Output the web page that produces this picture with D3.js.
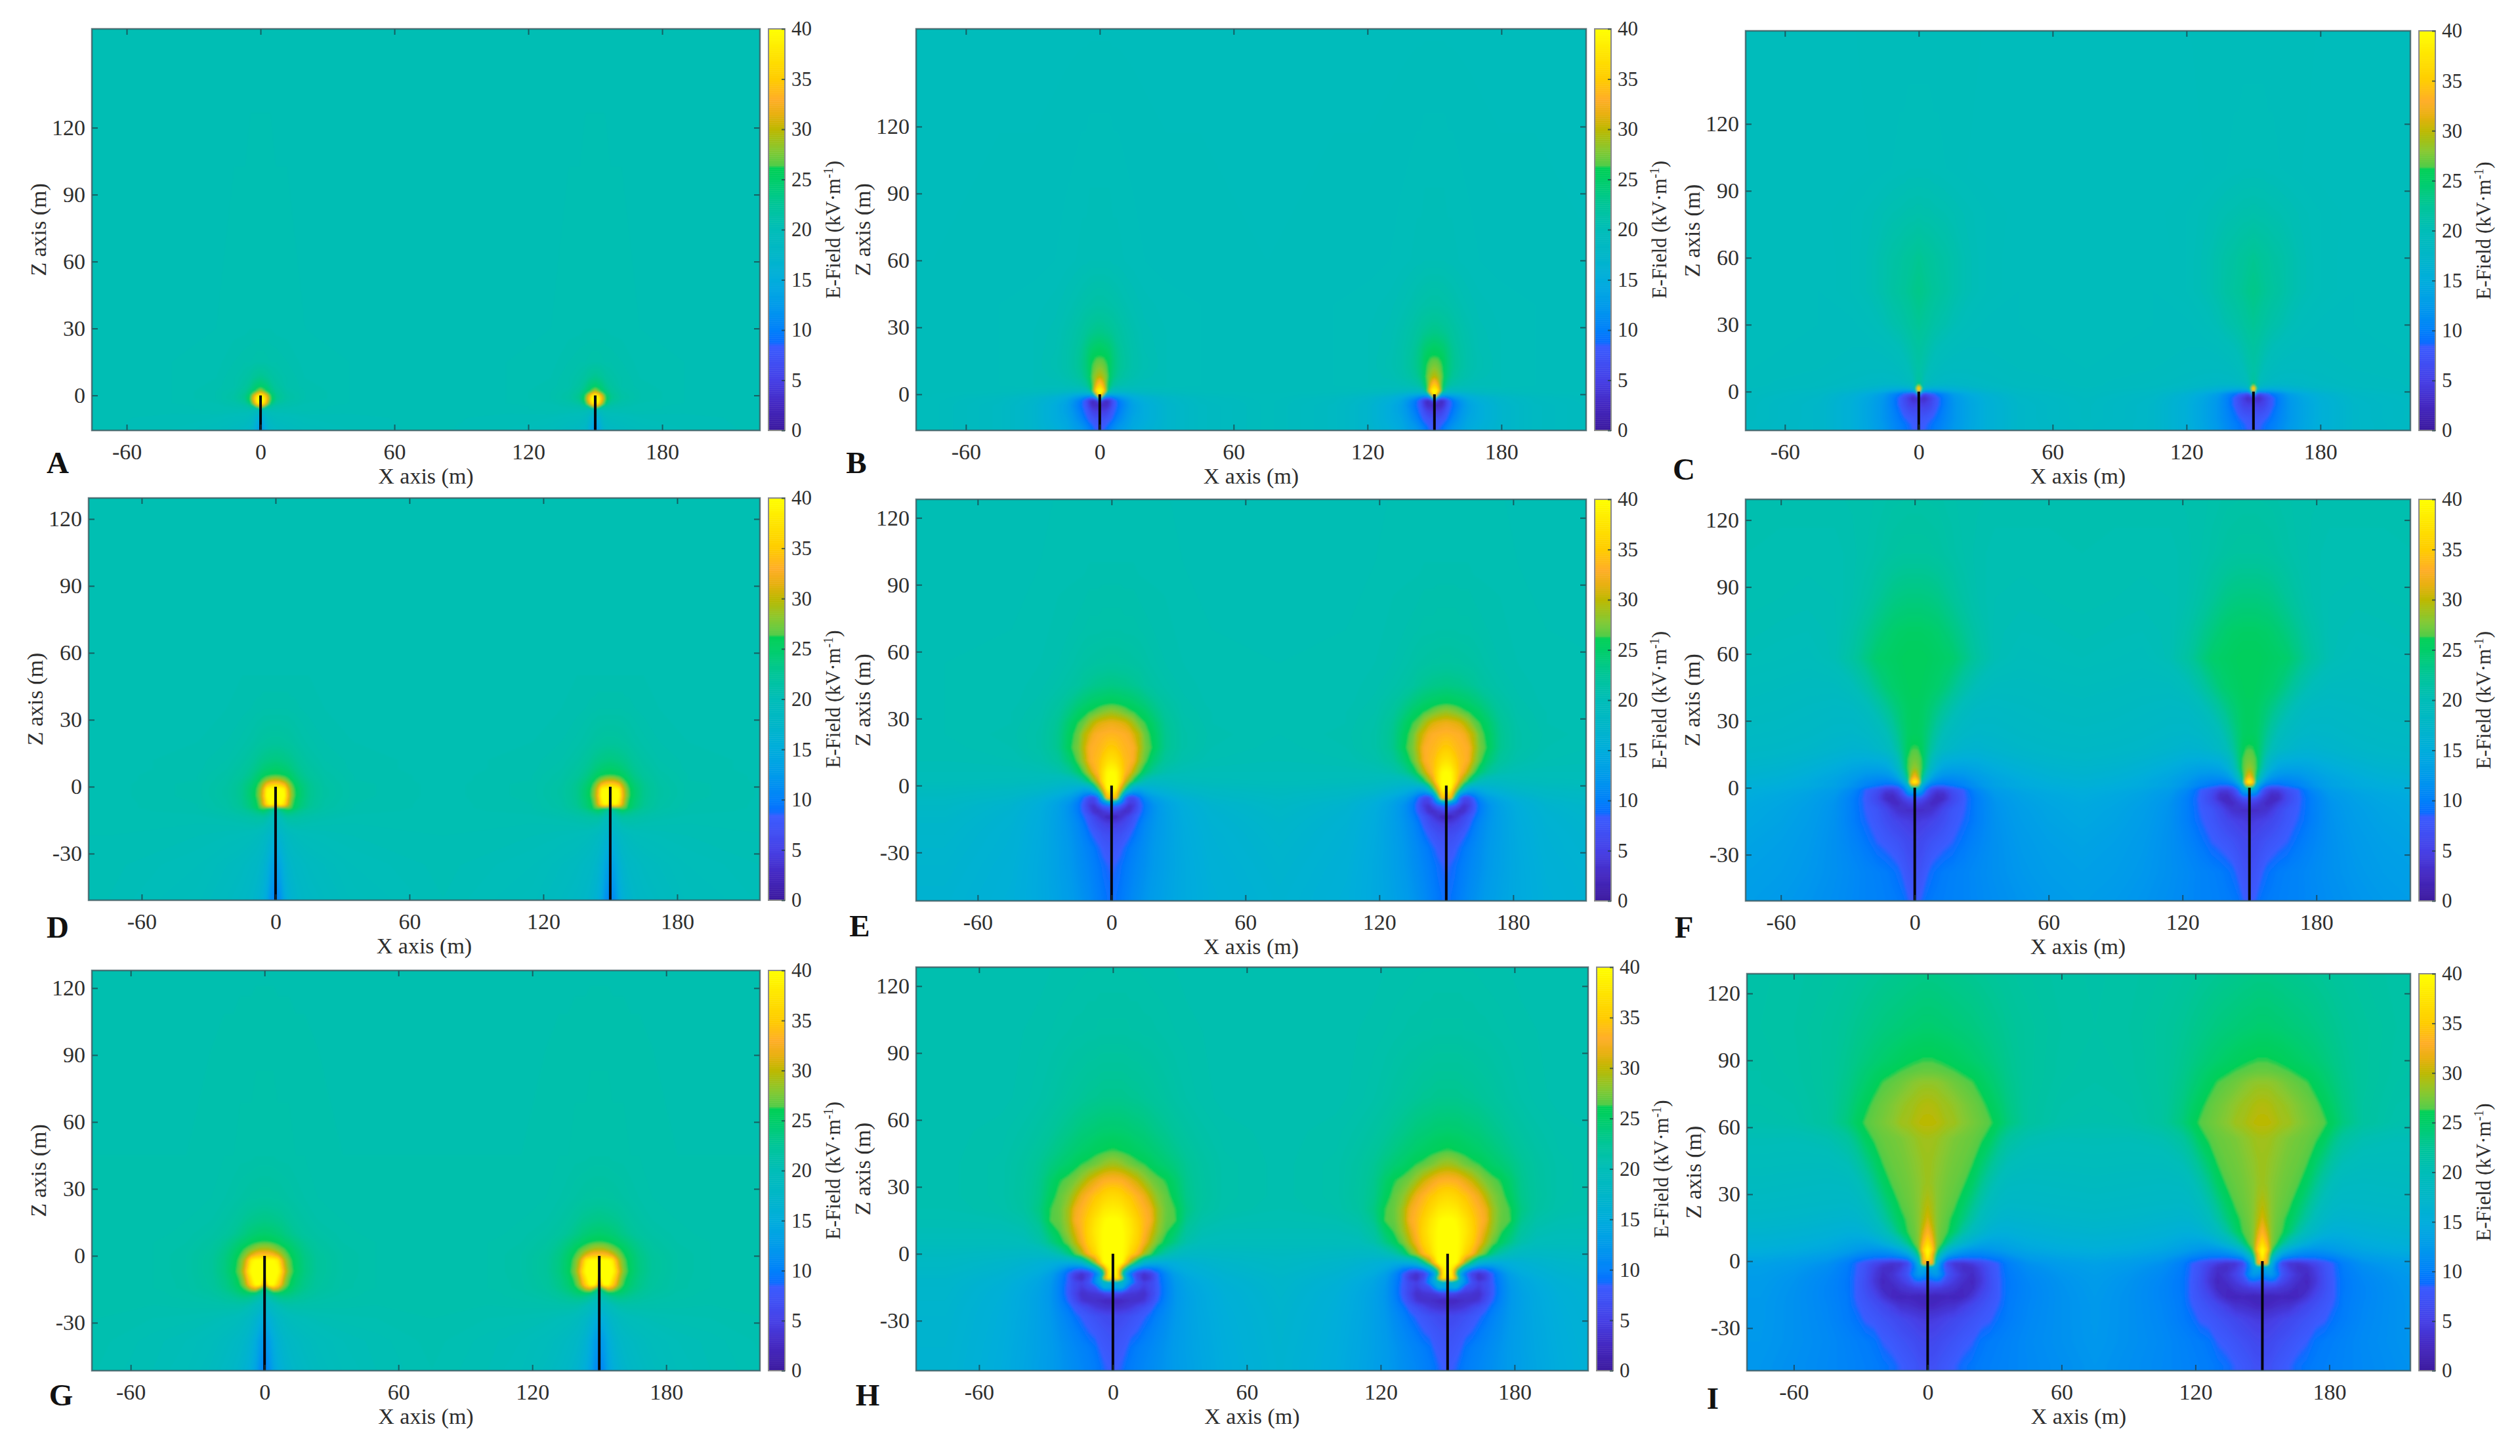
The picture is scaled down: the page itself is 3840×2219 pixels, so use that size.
<!DOCTYPE html>
<html>
<head>
<meta charset="utf-8">
<style>
html, body { margin: 0; background: #fff; }
text { font-family: "Liberation Serif", serif; fill: #2e2e2e; }
.domain { display: none; }
.tick line { stroke: #1d3d45; stroke-opacity: .75; stroke-width: 2px; }
</style>
</head>
<body>
<script src="https://d3js.org/d3.v7.min.js"></script>
<script>
// colour bar of the figure (kV/m)
var colorStops = [0, 2.5, 5, 8.4, 8.8, 10, 12.5, 15, 17.5, 20, 22.5, 25, 26.2, 26.4, 28, 30, 31.5, 33, 35, 37.5, 40];
var colorValues = ["#3c1a9e", "#4428c0", "#4640e6", "#3a5cff", "#0a6cff", "#0080fa", "#009bea", "#00addc", "#00b6c8", "#00bdb8", "#00c598", "#00ce68", "#00cf55", "#52cc48", "#88c830", "#bdb800", "#e8b010", "#ffae28", "#ffcc00", "#ffe400", "#ffff00"];

var panelNames = ["A", "B", "C", "D", "E", "F", "G", "H", "I"];
var towers = [0, 150];
var xTicks = [-60, 0, 60, 120, 180];
var zTicksShort = [0, 30, 60, 90, 120];
var zTicksTall = [-30, 0, 30, 60, 90, 120];
var cbarTicks = [0, 5, 10, 15, 20, 25, 30, 35, 40];

// left end of x axis and bottom end of z axis in metres, per panel
var xStart = [-75.6, -82.3, -77.6, -83.8, -87.6, -75.8, -77.4, -88.2, -81];
var zStart = [-15.7, -16.2, -17.4, -50.9, -51.7, -50.7, -51.5, -52.4, -49.1];

// Field values around one tower: rows = height z (m), cols = distance from the tower (m)
var colsA = [0, 1.5, 3, 4.5, 7, 12, 20, 40, 75];
var rowsA = [-25, -15, -10, -6.5, -5, -3.5, -1.6, 0, 1.7, 4, 8, 15, 30, 175];
var fieldA = [
  [11, 13, 16, 18, 18.5, 19, 19.5, 20, 20.3],
  [12, 14, 16.5, 18, 18.5, 19, 19.5, 20, 20.3],
  [15, 16, 18, 19, 19.5, 19.6, 20, 20.1, 20.3],
  [19, 19.5, 20, 20.5, 20.5, 20.5, 20.5, 20.3, 20.3],
  [30, 27, 23, 22, 21, 20.7, 20.5, 20.3, 20.3],
  [40, 38, 30, 24.5, 22, 21, 20.6, 20.4, 20.3],
  [40, 40, 33, 26.5, 23, 21.5, 20.8, 20.4, 20.3],
  [40, 37, 31, 25.5, 23, 21.5, 20.8, 20.4, 20.3],
  [30, 27.5, 25, 24, 22.5, 21.3, 20.8, 20.4, 20.3],
  [25, 24.5, 24, 23, 22, 21, 20.7, 20.4, 20.3],
  [23, 22.8, 22.5, 22, 21.5, 21, 20.6, 20.4, 20.3],
  [21.2, 21.2, 21.1, 21, 21, 20.8, 20.5, 20.4, 20.3],
  [20.6, 20.6, 20.6, 20.6, 20.5, 20.5, 20.4, 20.3, 20.3],
  [20.3, 20.3, 20.3, 20.3, 20.3, 20.3, 20.3, 20.3, 20.3]
];

var colsB = [0, 1.5, 3, 4.5, 6, 8, 11, 15, 20, 30, 45, 75];
var rowsB = [-25, -15, -11, -8, -5, -3, -1.5, 0, 1.5, 4, 8, 12, 16, 20, 28, 40, 60, 175];
var fieldB = [
  [8, 8.5, 9, 10, 11, 12, 13, 14, 15.5, 17, 18.5, 19.5],
  [8, 8.2, 9, 10, 11, 12, 13, 14.5, 15.5, 17, 18.5, 19.5],
  [7, 7, 7.5, 8, 9, 10.5, 12, 14, 15, 17, 18.5, 19.5],
  [5, 5, 5.5, 7, 8.2, 9.5, 11.5, 13.5, 15, 17, 18.5, 19.5],
  [3, 3, 3, 4.5, 7.5, 9, 11, 13.5, 15, 17, 18.5, 19.5],
  [8, 4, 2.5, 4, 7, 9.3, 11.5, 14, 15.5, 17.3, 18.7, 19.5],
  [30, 12, 9, 9, 10, 11.5, 13, 15, 16, 17.5, 18.8, 19.6],
  [40, 30, 17, 15, 15, 15, 15.5, 16.5, 17.5, 18.5, 19.2, 19.6],
  [40, 38, 27, 21, 19, 18.5, 18.5, 18.7, 19, 19.3, 19.6, 19.7],
  [36, 33, 26.8, 24, 22, 21, 20.5, 20.2, 20, 20, 19.8, 19.7],
  [30, 29, 27.5, 25, 23.7, 22.5, 21.5, 20.8, 20.3, 20, 19.8, 19.7],
  [28, 27.5, 26.6, 25.2, 24, 23, 22, 21, 20.5, 20, 19.8, 19.7],
  [26.5, 26.4, 26, 25.2, 24, 23, 22, 21, 20.5, 20, 19.8, 19.7],
  [25.5, 25.3, 25, 24.5, 23.7, 22.8, 21.8, 21, 20.4, 20, 19.8, 19.7],
  [23.3, 23.2, 23, 22.8, 22.5, 22, 21.4, 20.8, 20.3, 20, 19.8, 19.7],
  [21.5, 21.5, 21.4, 21.3, 21.2, 21, 20.7, 20.4, 20.1, 19.9, 19.8, 19.7],
  [20.2, 20.2, 20.2, 20.2, 20.1, 20.1, 20, 19.9, 19.8, 19.7, 19.7, 19.6],
  [19.5, 19.5, 19.5, 19.5, 19.5, 19.5, 19.5, 19.5, 19.5, 19.5, 19.5, 19.5]
];

var colsC = [0, 1, 2.5, 4.5, 6.5, 8.5, 12, 16, 22, 30, 45, 75];
var rowsC = [-25, -15, -12, -9, -6, -3, -1, 0, 1.5, 3, 5, 10, 20, 30, 45, 60, 80, 100, 175];
var fieldC = [
  [8.5, 8.5, 8.8, 9.5, 10, 10.5, 11.5, 12.5, 14, 15.5, 17.5, 18.5],
  [8, 8.1, 8.3, 8.8, 9.5, 10, 11, 12.3, 13.8, 15.5, 17.5, 18.5],
  [7.5, 7.5, 7.8, 8.2, 8.7, 9.5, 10.7, 12, 13.7, 15.5, 17.5, 18.7],
  [6.5, 6.5, 6.5, 7, 7.8, 9, 10.5, 12, 13.7, 15.5, 17.5, 18.7],
  [5, 5, 5, 5.5, 7, 8.3, 10.3, 12, 13.7, 15.5, 17.5, 18.7],
  [4, 3.5, 3, 4.5, 6.5, 8.2, 10.3, 12.2, 14, 15.7, 17.7, 18.8],
  [18, 9, 6, 7.5, 8.5, 9.5, 11, 13, 14.7, 16.2, 18, 19],
  [33, 18, 12, 12, 12, 12.5, 13.5, 14.7, 15.7, 17, 18.3, 19],
  [40, 28, 17, 16, 15.5, 15.5, 15.7, 16.2, 17, 17.8, 18.7, 19.2],
  [27, 22, 19, 18, 17.8, 17.5, 17.3, 17.4, 17.8, 18.3, 18.9, 19.3],
  [22, 21.5, 20, 19.3, 18.8, 18.5, 18.3, 18.2, 18.3, 18.6, 19, 19.3],
  [21.5, 21.3, 20.8, 20, 19.5, 19.2, 18.9, 18.8, 18.8, 18.9, 19.2, 19.4],
  [22, 21.8, 21.5, 21, 20.5, 20.1, 19.7, 19.4, 19.2, 19.2, 19.3, 19.5],
  [22.7, 22.5, 22.3, 21.9, 21.5, 21.2, 20.8, 20.2, 19.7, 19.3, 19.4, 19.5],
  [23.3, 23.2, 23, 22.7, 22.4, 22.1, 21.7, 21, 20.3, 19.8, 19.4, 19.5],
  [22.8, 22.7, 22.5, 22.3, 22.1, 21.8, 21.5, 21, 20.3, 19.8, 19.4, 19.5],
  [21, 21, 20.9, 20.9, 20.8, 20.7, 20.6, 20.4, 20.1, 19.8, 19.5, 19.5],
  [20, 20, 20, 20, 19.9, 19.9, 19.8, 19.7, 19.6, 19.5, 19.5, 19.5],
  [19.6, 19.6, 19.6, 19.6, 19.6, 19.6, 19.6, 19.6, 19.6, 19.6, 19.6, 19.6]
];

var colsD = [0, 2, 4, 5.5, 7, 8.5, 11, 15, 22, 35, 75];
var rowsD = [-60, -50, -35, -22, -14, -11, -9.5, -8, -4, -1, 1, 3, 5, 8, 12, 20, 35, 50, 140];
var fieldD = [
  [10, 11, 14, 15.5, 16.5, 17, 17.7, 18.2, 18.8, 19.5, 20.2],
  [10.5, 11.5, 14.5, 15.8, 16.5, 17, 17.7, 18.2, 18.8, 19.5, 20.2],
  [13, 14, 16, 17, 17.5, 18, 18.3, 18.8, 19.2, 19.8, 20.3],
  [16, 17, 18, 18.7, 19, 19.3, 19.6, 19.8, 20, 20.2, 20.4],
  [19, 20, 21, 21.5, 21.5, 21.5, 21.3, 21, 20.7, 20.5, 20.5],
  [21, 22.5, 24, 24.5, 24, 23.5, 22.8, 22, 21.2, 20.7, 20.5],
  [24, 25, 26.5, 27, 26.5, 25.2, 23.8, 22.5, 21.4, 20.8, 20.5],
  [36, 40, 37, 31, 27, 25.5, 24.2, 22.8, 21.5, 20.8, 20.5],
  [40, 40, 40, 33, 28.5, 26.4, 24.7, 23, 21.7, 20.9, 20.5],
  [40, 40, 39, 32, 28, 26.2, 24.6, 23, 21.7, 20.9, 20.5],
  [36, 35.5, 33, 29.5, 27, 25.5, 24.2, 22.9, 21.6, 20.9, 20.5],
  [30, 29.5, 28, 26.8, 25.7, 24.8, 23.7, 22.6, 21.5, 20.8, 20.5],
  [26.4, 26.2, 25.8, 25.4, 24.8, 24.2, 23.2, 22.3, 21.4, 20.8, 20.5],
  [25, 24.8, 24.5, 24.2, 23.8, 23.3, 22.7, 22, 21.2, 20.7, 20.5],
  [23.7, 23.6, 23.4, 23.2, 23, 22.7, 22.2, 21.6, 21, 20.7, 20.5],
  [22.2, 22.2, 22.1, 22, 21.9, 21.7, 21.4, 21.1, 20.8, 20.6, 20.5],
  [21, 21, 21, 21, 20.9, 20.9, 20.8, 20.7, 20.6, 20.5, 20.5],
  [20.6, 20.6, 20.6, 20.6, 20.6, 20.6, 20.6, 20.6, 20.5, 20.5, 20.5],
  [20.4, 20.4, 20.4, 20.4, 20.4, 20.4, 20.4, 20.4, 20.4, 20.4, 20.4]
];

var colsE = [0, 2, 4, 6, 8, 10, 12.5, 15, 18.5, 24, 32, 45, 75];
var rowsE = [-60, -50, -36, -28, -22, -17, -14, -11.5, -9, -7.5, -5.5, -3.5, -1, 2, 6, 11, 17, 23, 28, 33, 37, 45, 55, 70, 100, 140];
var fieldE = [
  [9, 9.2, 9.6, 10, 10.5, 11, 11.5, 12, 12.7, 13.5, 14.5, 15.5, 16.5],
  [9, 9.2, 9.6, 10, 10.5, 11, 11.5, 12, 12.7, 13.5, 14.5, 15.5, 16.5],
  [8.4, 8.6, 9, 9.6, 10, 10.5, 11, 11.5, 12.3, 13.3, 14.5, 15.7, 16.8],
  [7.5, 7.7, 8.2, 8.8, 9.6, 10.1, 10.7, 11.3, 12.2, 13.3, 14.6, 15.9, 17],
  [6.5, 6.7, 7, 7.7, 8.3, 9.2, 10.2, 11, 12, 13.2, 14.7, 16, 17.2],
  [4.5, 4.7, 5.3, 6, 7, 8, 9.6, 10.7, 11.8, 13.2, 14.8, 16.2, 17.4],
  [2.2, 2.5, 3.3, 4.5, 6, 7.4, 8.8, 10.2, 11.6, 13.2, 14.9, 16.3, 17.6],
  [6, 5, 4, 3, 3.3, 5.5, 8, 9.8, 11.5, 13.3, 15, 16.5, 17.8],
  [9, 9, 8, 5.5, 3.5, 4.5, 7.7, 9.7, 11.5, 13.4, 15.2, 16.7, 18],
  [18, 14, 11, 8, 5, 5, 8, 10, 12, 13.7, 15.4, 17, 18.2],
  [34, 34, 18, 9, 6, 6.5, 8.8, 11, 12.8, 14.5, 16, 17.5, 18.5],
  [38, 36, 27, 15, 12, 11, 11.5, 13, 14.5, 15.7, 17, 18, 18.8],
  [40, 40, 32, 26.5, 20, 16, 15, 15.5, 16.2, 17, 18, 18.7, 19.2],
  [40, 40, 37, 31, 28, 25, 22, 20, 18.8, 18.8, 19.2, 19.6, 19.8],
  [40, 39.5, 37, 34, 32, 29.5, 26.6, 24.5, 22.5, 20.8, 20.2, 20, 20],
  [37.5, 37, 35.5, 34, 33.5, 32.5, 29, 26.8, 24.5, 22.2, 20.9, 20.4, 20.2],
  [35, 34.7, 34, 33.5, 33.2, 32.8, 30, 27.5, 26, 23, 21.3, 20.6, 20.3],
  [33.5, 33.4, 33.2, 33, 32.5, 31, 29.5, 27, 25.7, 23, 21.3, 20.7, 20.4],
  [32, 31.8, 31.5, 31, 30, 28.8, 27, 26.3, 25, 22.7, 21.2, 20.6, 20.4],
  [28.5, 28.2, 27.8, 27.2, 26.6, 26.2, 25.6, 25, 23.8, 22.2, 21, 20.6, 20.4],
  [25.9, 25.8, 25.6, 25.4, 25.2, 24.9, 24.4, 23.9, 23, 21.8, 20.9, 20.5, 20.4],
  [23.5, 23.4, 23.3, 23.2, 23, 22.8, 22.5, 22, 21.6, 21.1, 20.7, 20.5, 20.4],
  [22, 22, 21.9, 21.9, 21.8, 21.7, 21.6, 21.4, 21.1, 20.8, 20.6, 20.5, 20.4],
  [21.2, 21.2, 21.2, 21.1, 21.1, 21.1, 21, 20.9, 20.8, 20.7, 20.5, 20.4, 20.4],
  [20.6, 20.6, 20.6, 20.6, 20.6, 20.6, 20.5, 20.5, 20.5, 20.5, 20.4, 20.4, 20.4],
  [20.4, 20.4, 20.4, 20.4, 20.4, 20.4, 20.4, 20.4, 20.4, 20.4, 20.4, 20.4, 20.4]
];

var colsF = [0, 1.5, 3, 5, 7.5, 10, 13, 17, 22, 28, 36, 48, 60, 75];
var rowsF = [-60, -50, -38, -24, -15, -10, -7, -5, -3, -1, 1, 2.5, 5, 9, 13, 17.5, 25, 35, 45, 58, 70, 85, 105, 140];
var fieldF = [
  [8, 8.3, 9.3, 9.6, 9.9, 10, 10, 10.1, 10.3, 10.7, 11.2, 11.8, 12.3, 12.8],
  [8, 8.2, 8.6, 9.3, 9.6, 9.8, 10, 10.2, 10.4, 10.8, 11.3, 11.9, 12.4, 12.9],
  [7, 7.2, 7.5, 8.2, 9, 9.4, 9.8, 10.1, 10.4, 10.9, 11.5, 12.2, 12.8, 13.2],
  [6, 6, 6.2, 6.7, 7.2, 7.6, 8, 8.5, 9.5, 10.4, 11.5, 12.5, 13.2, 13.7],
  [4.5, 4.5, 4.8, 5, 5.5, 6, 6.8, 7.8, 8.7, 10, 11.6, 12.8, 13.6, 14.2],
  [3, 3, 3, 3.2, 3.5, 4.5, 6, 7.5, 8.4, 10, 11.7, 13, 13.8, 14.4],
  [5, 4.8, 4.5, 3.7, 2.8, 3, 4.5, 6.5, 8.3, 10, 11.8, 13.2, 14, 14.6],
  [7, 7, 6.5, 5, 3.5, 2.5, 3, 6, 8.2, 10, 12, 13.4, 14.2, 14.8],
  [10, 10.5, 10, 7.5, 4.5, 3, 3.2, 6.2, 8.3, 10.3, 12.3, 13.6, 14.4, 15],
  [18, 14, 13, 9, 6, 4.5, 4.8, 7, 8.4, 10.8, 12.7, 14, 14.8, 15.3],
  [30, 28, 16, 12, 9.5, 8.8, 8.8, 9.5, 10.4, 11.8, 13.5, 14.7, 15.3, 15.7],
  [40, 36, 21, 15, 11.5, 10.5, 10, 10.2, 10.8, 12, 13.5, 14.7, 15.5, 16],
  [33, 30, 24.5, 19, 14.5, 12.5, 11.7, 11.5, 11.8, 12.8, 14, 15.2, 16, 16.5],
  [28.5, 27.7, 26.4, 22.5, 18, 15.5, 14, 13.5, 13.5, 14, 15, 16, 16.7, 17],
  [27.3, 27, 26.3, 23.5, 20, 17.5, 16, 15.5, 15.2, 15.3, 16, 16.8, 17.3, 17.6],
  [26.4, 26.3, 25.7, 24, 21.8, 20, 18.5, 17.5, 16.8, 16.6, 17, 17.5, 17.8, 18],
  [25.5, 25.4, 25.2, 24.3, 23, 21.5, 20, 18.8, 17.9, 17.5, 17.6, 18, 18.3, 18.5],
  [25.5, 25.5, 25.3, 24.8, 24.1, 23.3, 22.2, 20.7, 19.2, 18.3, 18.2, 18.5, 18.8, 19],
  [25.7, 25.7, 25.6, 25.4, 25.1, 24.8, 24.2, 23, 21.3, 19.8, 19, 19, 19.2, 19.4],
  [25.8, 25.8, 25.8, 25.7, 25.5, 25.3, 25.1, 24.8, 23.5, 21.8, 20.3, 19.6, 19.8, 20],
  [25.2, 25.2, 25.2, 25.1, 25, 24.8, 24.4, 23.7, 22.7, 21.3, 20.3, 20, 20.1, 20.3],
  [23.8, 23.8, 23.8, 23.7, 23.6, 23.4, 23, 22.4, 21.5, 20.8, 20.4, 20.3, 20.4, 20.5],
  [22, 22, 22, 22, 21.9, 21.8, 21.6, 21.3, 21, 20.7, 20.5, 20.5, 20.5, 20.6],
  [21.2, 21.2, 21.2, 21.1, 21.1, 21.1, 21, 21, 20.9, 20.9, 20.8, 20.8, 20.8, 20.8]
];

var colsG = [0, 2, 4, 6, 7.5, 9, 11, 14, 18, 24, 35, 50, 75];
var rowsG = [-60, -51, -38, -28, -22, -18, -16, -14.5, -13, -7, -2, 0.5, 3, 6, 10, 16, 26, 45, 140];
var fieldG = [
  [10, 11, 13.5, 15, 15.7, 16.3, 17, 17.7, 18.3, 19, 19.7, 20.1, 20.5],
  [10.3, 11.3, 13.8, 15.2, 15.9, 16.5, 17.1, 17.8, 18.4, 19.1, 19.8, 20.2, 20.6],
  [12, 13, 15, 16.3, 17, 17.5, 18, 18.5, 19, 19.5, 20, 20.3, 20.7],
  [15, 15.7, 17, 18, 18.5, 19, 19.4, 19.8, 20, 20.3, 20.5, 20.6, 20.8],
  [18, 18.5, 19.5, 20.3, 20.7, 21, 21.2, 21.2, 21.1, 21, 20.9, 20.8, 20.8],
  [20.5, 21.5, 22.5, 23.2, 23.5, 23.6, 23.4, 22.8, 22.2, 21.5, 21.1, 20.9, 20.8],
  [22, 24, 26.3, 26.4, 25.8, 25.3, 24.6, 23.6, 22.7, 21.8, 21.2, 20.9, 20.8],
  [24, 28, 33, 31, 28, 26.6, 25.2, 24, 23, 22, 21.3, 21, 20.8],
  [30, 40, 40, 36, 32, 28, 26, 24.4, 23.2, 22.1, 21.3, 21, 20.8],
  [40, 40, 40, 40, 37, 31.5, 27.5, 25.3, 23.7, 22.3, 21.4, 21, 20.8],
  [40, 40, 40, 38.5, 33.5, 29.5, 26.9, 25.1, 23.6, 22.3, 21.4, 21, 20.8],
  [34, 34, 33, 31, 29, 27.5, 26.2, 24.8, 23.4, 22.2, 21.4, 21, 20.8],
  [29.5, 29.3, 28.5, 27.5, 26.9, 26.3, 25.4, 24.3, 23.1, 22, 21.3, 21, 20.8],
  [26.4, 26.3, 26, 25.6, 25.2, 24.8, 24.4, 23.6, 22.7, 21.8, 21.2, 21, 20.8],
  [24.8, 24.7, 24.5, 24.2, 24, 23.6, 23.2, 22.6, 22, 21.5, 21.1, 20.9, 20.8],
  [23.4, 23.3, 23.2, 23, 22.9, 22.7, 22.4, 22, 21.6, 21.2, 21, 20.9, 20.8],
  [22, 22, 21.9, 21.9, 21.8, 21.7, 21.6, 21.4, 21.2, 21, 20.9, 20.8, 20.8],
  [21.2, 21.2, 21.2, 21.1, 21.1, 21.1, 21.1, 21, 21, 20.9, 20.8, 20.8, 20.8],
  [20.7, 20.7, 20.7, 20.7, 20.7, 20.7, 20.7, 20.7, 20.7, 20.7, 20.7, 20.7, 20.7]
];

var colsH = [0, 2, 4, 6, 8, 11, 14, 17, 20, 24, 28, 33, 40, 50, 75];
var rowsH = [-60, -50, -42, -35, -28, -24, -21, -18, -15, -13, -11, -9, -7, -4, 0, 5, 10, 15, 20, 26, 33, 40, 46, 55, 70, 100, 140];
var fieldH = [
  [8.3, 8.6, 9.2, 9.6, 9.9, 10.2, 10.6, 11, 11.4, 12, 12.6, 13.2, 14, 15, 16.5],
  [8, 8.3, 8.6, 9.4, 9.8, 10.2, 10.6, 11, 11.4, 12, 12.6, 13.2, 14, 15, 16.5],
  [7.5, 7.7, 8, 8.4, 9.3, 9.9, 10.3, 10.7, 11.2, 11.9, 12.6, 13.3, 14.1, 15.1, 16.6],
  [7, 7.1, 7.4, 7.7, 8.1, 8.6, 9.5, 10.2, 10.8, 11.6, 12.5, 13.3, 14.2, 15.2, 16.7],
  [6, 6, 6.3, 6.7, 7.1, 7.7, 8.3, 9.2, 10.2, 11.2, 12.3, 13.3, 14.3, 15.3, 16.8],
  [3.5, 3.5, 3.7, 4, 4.5, 5.8, 7, 8, 9.5, 10.8, 12.2, 13.3, 14.4, 15.4, 16.9],
  [2.5, 2.5, 2.7, 3, 3.2, 3.3, 4, 6.5, 8.5, 10.5, 12.1, 13.3, 14.4, 15.5, 17],
  [5.5, 5.5, 5, 4.2, 4, 3.7, 3.3, 5.5, 8, 10.3, 12.1, 13.4, 14.5, 15.6, 17.1],
  [14, 15, 15, 11, 7, 6, 4.5, 6, 8, 10.3, 12.2, 13.6, 14.7, 15.8, 17.2],
  [15, 16, 16.5, 14, 11, 7, 5, 6, 8.2, 10.4, 12.4, 13.8, 14.9, 16, 17.3],
  [35, 38, 30, 15, 11, 6, 3, 4.5, 8.3, 10.6, 12.7, 14.1, 15.2, 16.2, 17.4],
  [40, 38, 24, 13, 9.5, 5.5, 3.5, 5, 8.4, 11, 13.2, 14.7, 15.6, 16.5, 17.6],
  [40, 38, 28, 20, 14, 10, 8.5, 9, 10, 12.5, 14.3, 15.3, 16, 16.9, 17.9],
  [40, 40, 40, 34, 28, 22, 17, 15.5, 15, 15, 15.5, 16, 16.7, 17.3, 18.2],
  [40, 40, 40, 38.5, 36, 33.3, 29, 26.5, 23.5, 21, 19.5, 18.3, 18, 18.3, 18.8],
  [40, 40, 40, 39, 37.5, 35.5, 32.5, 29.5, 27.2, 25.2, 23.3, 21, 19.8, 19.6, 19.6],
  [40, 40, 40, 39, 38, 36, 33.5, 31, 28.5, 26.4, 24.8, 22, 20.5, 20.1, 20.1],
  [40, 40, 39.5, 38.5, 37.5, 35.5, 33.7, 32.5, 29, 26.9, 26.4, 23, 21.2, 20.6, 20.4],
  [38.5, 38.3, 38, 37, 36, 34.5, 33.3, 32, 29, 27, 26.3, 23.6, 21.8, 21, 20.6],
  [36.5, 36.3, 35.8, 35, 34.5, 33.3, 32, 29.8, 28, 26.8, 25.5, 23.2, 22, 21.1, 20.7],
  [33.2, 33.1, 32.9, 32.3, 31.5, 30.3, 28.7, 27.5, 26.8, 26.1, 24.8, 23, 21.9, 21.1, 20.7],
  [29, 28.8, 28.4, 27.8, 27.3, 26.7, 26.3, 25.6, 25, 24.4, 23.7, 22.7, 21.8, 21.1, 20.7],
  [26.4, 26.3, 26.1, 25.9, 25.7, 25.3, 25, 24.6, 24.2, 23.6, 23, 22.3, 21.6, 21, 20.7],
  [24.8, 24.7, 24.7, 24.6, 24.4, 24.2, 24, 23.6, 23.2, 22.8, 22.3, 21.8, 21.3, 20.9, 20.7],
  [23, 23, 23, 22.9, 22.8, 22.7, 22.5, 22.3, 22.1, 21.8, 21.5, 21.2, 20.9, 20.7, 20.6],
  [21.5, 21.5, 21.5, 21.5, 21.4, 21.4, 21.3, 21.3, 21.2, 21.1, 21, 20.9, 20.8, 20.7, 20.6],
  [20.8, 20.8, 20.8, 20.8, 20.8, 20.8, 20.8, 20.7, 20.7, 20.7, 20.7, 20.6, 20.6, 20.6, 20.6]
];

var colsI = [0, 2, 4, 6, 9, 12, 16, 20, 24, 28, 32, 36, 45, 60, 75];
var rowsI = [-60, -47, -36, -26, -20, -16, -12, -9, -6, -3, -1, 1, 3, 5, 8, 13, 19, 26, 35, 45, 55, 62, 70, 80, 85, 90, 105, 140];
var fieldI = [
  [7, 7, 7.2, 7.6, 8, 8.3, 9, 9.5, 9.8, 10, 10.2, 10.4, 10.8, 11.4, 12],
  [7, 7, 7.2, 7.6, 8, 8.4, 9, 9.5, 9.8, 10, 10.2, 10.4, 10.8, 11.4, 12],
  [6, 6, 6.2, 6.6, 7, 7.4, 8, 8.4, 9.4, 9.8, 10, 10.3, 10.9, 11.6, 12.2],
  [4.5, 4.5, 4.7, 5, 5.5, 6, 6.7, 7.3, 7.9, 8.3, 9.3, 9.8, 10.7, 11.6, 12.3],
  [2.5, 2.5, 2.7, 3, 3.3, 3.5, 4.8, 6, 7, 7.8, 8.6, 9.7, 10.6, 11.6, 12.3],
  [2, 2, 2, 2.2, 2.4, 2.2, 2.5, 4, 6, 7.3, 8.3, 9.6, 10.5, 11.6, 12.4],
  [5, 5, 4.8, 4.6, 4, 3.5, 2.6, 2.6, 4.8, 6.8, 8.3, 9.5, 10.5, 11.7, 12.5],
  [8, 8.5, 9, 8.5, 6, 4.5, 3.2, 2.4, 4.2, 6.8, 8.3, 9.5, 10.6, 11.8, 12.6],
  [11, 12, 12.5, 11, 7.5, 5.5, 3.6, 2.8, 4.5, 7, 8.4, 9.6, 10.8, 12, 12.8],
  [13, 15, 14, 10, 7, 4.5, 3, 3.2, 5, 7.2, 8.5, 9.8, 11.2, 12.4, 13.1],
  [33, 33, 16, 11, 6, 4, 3.5, 4.5, 6, 7.5, 8.6, 10, 11.6, 12.8, 13.4],
  [38, 33, 19, 14, 10, 9, 8.4, 8.6, 8.8, 9.3, 9.8, 10.8, 12.4, 13.4, 14],
  [40, 33, 24, 18, 13.5, 12, 11, 10.5, 10.5, 10.8, 11.3, 12, 13.2, 14.2, 14.7],
  [40, 36, 26.8, 22.5, 17, 14.5, 12.8, 12, 11.8, 12, 12.4, 13, 14, 14.9, 15.3],
  [37, 33.5, 28, 26.6, 23, 20, 17, 15.2, 14, 13.6, 13.7, 14, 14.9, 15.6, 15.9],
  [33.5, 31, 28, 27, 26.3, 24.5, 21.5, 19, 17.2, 16, 15.5, 15.5, 16, 16.5, 16.8],
  [31, 29.5, 28, 27.3, 26.6, 25.8, 23.8, 21.5, 19.3, 17.8, 17, 16.8, 17, 17.4, 17.6],
  [29.7, 29, 28, 27.5, 27, 26.6, 25.2, 23.2, 21, 19.3, 18.2, 17.8, 17.9, 18.1, 18.3],
  [28.7, 28.5, 28, 27.7, 27.3, 27, 26.5, 25.2, 23, 21, 19.6, 18.8, 18.6, 18.8, 19],
  [28.7, 28.6, 28.3, 28, 27.6, 27.3, 27, 26.5, 25, 23.2, 21.5, 20.3, 19.5, 19.5, 19.6],
  [29, 28.9, 28.7, 28.4, 28, 27.6, 27.3, 27, 26.5, 25.5, 23.5, 22, 20.6, 20.1, 20.2],
  [30, 30, 29.8, 29.5, 29, 28.8, 28, 27.5, 27, 26.5, 25.4, 23.9, 22, 21, 20.8],
  [29.6, 29.5, 29.3, 29, 28.7, 28.3, 27.7, 27.2, 26.7, 25.8, 24.8, 23.6, 22, 21.2, 21],
  [28.3, 28.3, 28.2, 28, 27.6, 27.2, 26.8, 26.4, 25.6, 24.8, 24, 23.2, 22.1, 21.4, 21.2],
  [27, 27, 26.9, 26.8, 26.6, 26.4, 26, 25.6, 25, 24.4, 23.7, 23, 22.1, 21.5, 21.2],
  [26.3, 26.3, 26.2, 26.1, 25.9, 25.6, 25.2, 24.8, 24.4, 23.9, 23.4, 22.9, 22.1, 21.5, 21.3],
  [24.7, 24.7, 24.6, 24.5, 24.4, 24.2, 24, 23.8, 23.5, 23.2, 22.9, 22.6, 22.1, 21.6, 21.4],
  [22.8, 22.8, 22.8, 22.7, 22.6, 22.5, 22.4, 22.3, 22.2, 22.1, 22, 21.9, 21.7, 21.5, 21.3]
];

var allCols = [colsA, colsB, colsC, colsD, colsE, colsF, colsG, colsH, colsI];
var allRows = [rowsA, rowsB, rowsC, rowsD, rowsE, rowsF, rowsG, rowsH, rowsI];
var allFields = [fieldA, fieldB, fieldC, fieldD, fieldE, fieldF, fieldG, fieldH, fieldI];

// layout: panel rectangles in page pixels [left, top, right, bottom]
var frames = [
  [140, 44, 1158, 656], [1396, 44, 2417, 656], [2660, 47, 3673, 656],
  [135, 759, 1158, 1372], [1396, 761, 2417, 1373], [2660, 761, 3673, 1373],
  [140, 1479, 1158, 2089], [1396, 1474, 2420, 2089], [2662, 1484, 3673, 2089]
];
// centre of the panel letter in page pixels
var letterPos = [[88, 705], [1305, 705], [2566, 715], [88, 1413], [1310, 1411], [2566, 1413], [93, 2126], [1322, 2126], [2610, 2131]];
var pxPerMetre = 3.4;
var axisFont = 34;
var barFont = 31;

var color = d3.scaleLinear().domain(colorStops).range(colorValues).clamp(true);
var levels = d3.range(0, 40, 0.2);

var svg = d3.select("body").append("svg")
    .attr("width", 3840)
    .attr("height", 2219);
var defs = svg.append("defs");
defs.append("filter").attr("id", "soft")
    .attr("x", "-2%").attr("y", "-2%").attr("width", "104%").attr("height", "104%")
    .append("feGaussianBlur").attr("stdDeviation", 1.8);

panelNames.forEach(function(name, i) {
    var f = frames[i];
    var left = f[0], top = f[1], right = f[2], bottom = f[3];
    var w = right - left, h = bottom - top;

    var x = d3.scaleLinear()
        .domain([xStart[i], xStart[i] + w / pxPerMetre])
        .range([0, w]);
    var z = d3.scaleLinear()
        .domain([zStart[i], zStart[i] + h / pxPerMetre])
        .range([h, 0]);

    var g = svg.append("g").attr("transform", "translate(" + left + "," + top + ")");
    defs.append("clipPath").attr("id", "clip" + name)
        .append("rect").attr("width", w).attr("height", h);

    // mirror the one-tower columns around both towers to get the whole row of the field
    var cols = allCols[i];
    var n = cols.length;
    var xGrid = [-130], colIndex = [n - 1];
    d3.range(n - 1, -1, -1).forEach(function(c) { xGrid.push(-cols[c]); colIndex.push(c); });
    d3.range(1, n).forEach(function(c) { xGrid.push(cols[c]); colIndex.push(c); });
    d3.range(n - 2, -1, -1).forEach(function(c) { xGrid.push(150 - cols[c]); colIndex.push(c); });
    d3.range(1, n).forEach(function(c) { xGrid.push(150 + cols[c]); colIndex.push(c); });
    xGrid.push(280); colIndex.push(n - 1);

    var rows = allRows[i];
    var values = [];
    allFields[i].forEach(function(row) {
        colIndex.forEach(function(c) { values.push(row[c]); });
    });

    // grid index -> metres
    var xOfCell = d3.scaleLinear().domain(d3.range(xGrid.length)).range(xGrid).clamp(true);
    var zOfCell = d3.scaleLinear().domain(d3.range(rows.length)).range(rows).clamp(true);
    var path = d3.geoPath(d3.geoTransform({
        point: function(px, py) {
            this.stream.point(x(xOfCell(px - 0.5)), z(zOfCell(py - 0.5)));
        }
    }));
    var bands = d3.contours().size([xGrid.length, rows.length]).thresholds(levels)(values);

    var plot = g.append("g").attr("clip-path", "url(#clip" + name + ")");
    var heat = plot.append("g").attr("filter", "url(#soft)");
    heat.selectAll("path")
        .data(bands)
        .enter().append("path")
        .attr("d", path)
        .attr("fill", function(d) { return color(d.value + 0.1); });

    // the two towers
    plot.selectAll(".tower")
        .data(towers)
        .enter().append("line")
        .attr("class", "tower")
        .attr("x1", function(d) { return x(d); })
        .attr("x2", function(d) { return x(d); })
        .attr("y1", z(0))
        .attr("y2", h)
        .attr("stroke", "#05050f")
        .attr("stroke-width", 4);

    // axes, ticks point inward on all four sides
    var zTicks = i < 3 ? zTicksShort : zTicksTall;
    var plain = function(d) { return d; };
    var bottomAxis = g.append("g").attr("transform", "translate(0," + h + ")")
        .call(d3.axisBottom(x).tickValues(xTicks).tickSizeInner(-9).tickSizeOuter(0).tickPadding(20).tickFormat(plain));
    var leftAxis = g.append("g")
        .call(d3.axisLeft(z).tickValues(zTicks).tickSizeInner(-9).tickSizeOuter(0).tickPadding(10).tickFormat(plain));
    g.append("g").call(d3.axisTop(x).tickValues(xTicks).tickSizeInner(-9).tickSizeOuter(0).tickFormat(""));
    g.append("g").attr("transform", "translate(" + w + ",0)")
        .call(d3.axisRight(z).tickValues(zTicks).tickSizeInner(-9).tickSizeOuter(0).tickFormat(""));
    bottomAxis.selectAll("text").style("font-size", axisFont + "px").style("font-family", "Liberation Serif").attr("fill", "#2e2e2e");
    leftAxis.selectAll("text").style("font-size", axisFont + "px").style("font-family", "Liberation Serif").attr("fill", "#2e2e2e");

    g.append("rect")
        .attr("width", w).attr("height", h)
        .attr("fill", "none")
        .attr("stroke", "#3d5a60")
        .attr("stroke-opacity", 0.8)
        .attr("stroke-width", 2.5);

    g.append("text")
        .attr("x", w / 2).attr("y", h + 81)
        .attr("text-anchor", "middle")
        .style("font-size", axisFont + "px")
        .text("X axis (m)");
    g.append("text")
        .attr("transform", "translate(-70," + (h / 2) + ") rotate(-90)")
        .attr("text-anchor", "middle")
        .style("font-size", axisFont + "px")
        .text("Z axis (m)");

    // colour bar
    var barX = w + 13, barW = 25;
    var barScale = d3.scaleLinear().domain([0, 40]).range([h, 0]);
    var bar = g.append("g").attr("transform", "translate(" + barX + ",0)");
    bar.selectAll("rect")
        .data(d3.range(0, 40, 0.1))
        .enter().append("rect")
        .attr("y", function(d) { return barScale(d + 0.1); })
        .attr("width", barW)
        .attr("height", h / 400 + 0.5)
        .attr("fill", function(d) { return color(d + 0.05); });
    bar.append("rect")
        .attr("width", barW).attr("height", h)
        .attr("fill", "none")
        .attr("stroke", "#8a8a8a")
        .attr("stroke-width", 2);
    var barAxis = bar.append("g").attr("transform", "translate(" + barW + ",0)")
        .call(d3.axisRight(barScale).tickValues(cbarTicks).tickSizeInner(-5).tickSizeOuter(0).tickPadding(10));
    barAxis.selectAll("text").style("font-size", barFont + "px").style("font-family", "Liberation Serif").attr("fill", "#2e2e2e");

    var barLabel = g.append("text")
        .attr("transform", "translate(" + (barX + barW + 84) + "," + (h / 2) + ") rotate(-90)")
        .attr("text-anchor", "middle")
        .style("font-size", barFont + "px");
    barLabel.append("tspan").text("E-Field (kV\u00b7m");
    barLabel.append("tspan").attr("dy", -11).style("font-size", "20px").text("-1");
    barLabel.append("tspan").attr("dy", 11).text(")");

    svg.append("text")
        .attr("x", letterPos[i][0]).attr("y", letterPos[i][1] + 16)
        .attr("text-anchor", "middle")
        .attr("font-weight", "bold")
        .style("font-size", "47px")
        .style("fill", "#111")
        .text(name);
});
</script>
</body>
</html>
